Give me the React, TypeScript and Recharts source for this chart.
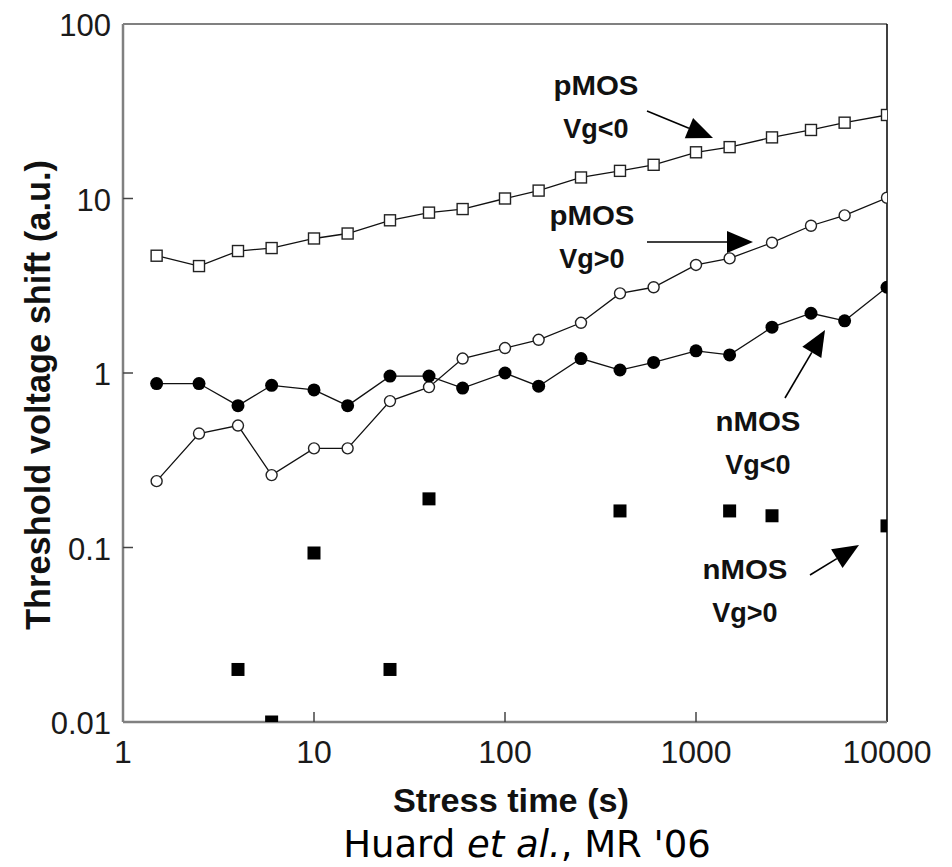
import {
  ScatterChart,
  Scatter,
  XAxis,
  YAxis,
  ReferenceLine,
} from 'recharts';

// stress time (s), shared by the three connected series
const stressTime = [1.5, 2.5, 4, 6, 10, 15, 25, 40, 60, 100, 150, 250, 400, 600, 1000, 1500, 2500, 4000, 6000, 10000];
const pmosVgNeg = [4.7, 4.1, 5.0, 5.2, 5.9, 6.3, 7.5, 8.3, 8.7, 10.0, 11.1, 13.2, 14.4, 15.6, 18.4, 19.7, 22.4, 24.7, 27.2, 30.1];
const pmosVgPos = [0.24, 0.45, 0.5, 0.26, 0.37, 0.37, 0.69, 0.83, 1.21, 1.39, 1.55, 1.94, 2.86, 3.1, 4.16, 4.54, 5.58, 6.98, 8.0, 10.1];
const nmosVgNeg = [0.87, 0.87, 0.65, 0.85, 0.8, 0.65, 0.96, 0.96, 0.82, 1.0, 0.84, 1.21, 1.04, 1.15, 1.34, 1.27, 1.83, 2.2, 1.99, 3.1];

// nMOS Vg>0 only has scattered points
const nmosPosTime = [4, 6, 10, 25, 40, 400, 1500, 2500, 10000];
const nmosVgPos = [0.02, 0.01, 0.093, 0.02, 0.19, 0.162, 0.162, 0.152, 0.133];

const xTicks = [1, 10, 100, 1000, 10000];
const yTicks = [0.01, 0.1, 1, 10, 100];

const FONT = '"Liberation Sans", Arial, sans-serif';

const toPoints = (xs: number[], ys: number[]) => xs.map((x, i) => ({ x, y: ys[i] }));

const OpenSquare = (p: any) => (
  <rect x={p.cx - 5.5} y={p.cy - 5.5} width={11} height={11} fill="#fff" stroke="#222" strokeWidth={1.4} />
);
const OpenCircle = (p: any) => (
  <circle cx={p.cx} cy={p.cy} r={5.5} fill="#fff" stroke="#222" strokeWidth={1.4} />
);
const FilledCircle = (p: any) => <circle cx={p.cx} cy={p.cy} r={6.5} fill="#000" />;
const FilledSquare = (p: any) => (
  <rect x={p.cx - 6.5} y={p.cy - 6.5} width={13} height={13} fill="#000" />
);

const YTick = (props: any) => {
  const { x, y, payload } = props;
  const v = payload.value;
  const inner = v !== 100 && v !== 0.01;
  return (
    <g>
      {inner && <line x1={x} x2={x + 10} y1={y} y2={y} stroke="#444" strokeWidth={1.5} />}
      <text x={x - 12} y={y + 12} textAnchor="end" fontSize={31} fontFamily={FONT} fill="#1a1a1a">
        {String(v)}
      </text>
    </g>
  );
};

const XTick = (props: any) => {
  const { x, y, payload } = props;
  const v = payload.value;
  const inner = v !== 1 && v !== 10000;
  return (
    <g>
      {inner && <line x1={x} x2={x} y1={y} y2={y - 10} stroke="#444" strokeWidth={1.5} />}
      <text x={x} y={y + 41} textAnchor="middle" fontSize={32} fontFamily={FONT} fill="#1a1a1a">
        {String(v)}
      </text>
    </g>
  );
};

function Arrow({ x1, y1, x2, y2, head = 26, width = 22 }: any) {
  const dx = x2 - x1;
  const dy = y2 - y1;
  const len = Math.sqrt(dx * dx + dy * dy);
  const ux = dx / len;
  const uy = dy / len;
  const bx = x2 - ux * head;
  const by = y2 - uy * head;
  const px = -uy * (width / 2);
  const py = ux * (width / 2);
  return (
    <g>
      <line x1={x1} y1={y1} x2={bx} y2={by} stroke="#000" strokeWidth={1.6} />
      <polygon points={`${x2},${y2} ${bx + px},${by + py} ${bx - px},${by - py}`} fill="#000" />
    </g>
  );
}

function Note({ x, y, top, bottom }: any) {
  return (
    <g fontFamily={FONT} fontWeight="bold" fontSize={27} fill="#111" textAnchor="middle">
      <text x={x} y={y} textLength={85} lengthAdjust="spacingAndGlyphs">{top}</text>
      <text x={x} y={y + 43}>{bottom}</text>
    </g>
  );
}

export default function App() {
  return (
    <div style={{ position: 'absolute', left: 0, top: 0, width: 952, height: 867, background: '#fff' }}>
      <ScatterChart
        width={952}
        height={867}
        margin={{ top: 24, right: 65, bottom: 0, left: 0 }}
      >
        <XAxis
          type="number"
          dataKey="x"
          scale="log"
          domain={[1, 10000]}
          ticks={xTicks}
          interval={0}
          allowDataOverflow
          height={145}
          tickSize={0}
          tickMargin={0}
          tickLine={false}
          tick={<XTick />}
          axisLine={{ stroke: '#808080', strokeWidth: 2.5 }}
        />
        <YAxis
          type="number"
          dataKey="y"
          scale="log"
          domain={[0.01, 100]}
          ticks={yTicks}
          interval={0}
          allowDataOverflow
          width={123}
          tickSize={0}
          tickMargin={0}
          tickLine={false}
          tick={<YTick />}
          axisLine={{ stroke: '#808080', strokeWidth: 2.5 }}
        />
        <ReferenceLine y={100} stroke="#808080" strokeWidth={2} />
        <ReferenceLine x={10000} stroke="#000" strokeWidth={1.5} />
        <Scatter
          data={toPoints(stressTime, pmosVgNeg)}
          line={{ stroke: '#111', strokeWidth: 1.3 }}
          lineType="joint"
          shape={<OpenSquare />}
          isAnimationActive={false}
        />
        <Scatter
          data={toPoints(stressTime, pmosVgPos)}
          line={{ stroke: '#111', strokeWidth: 1.3 }}
          lineType="joint"
          shape={<OpenCircle />}
          isAnimationActive={false}
        />
        <Scatter
          data={toPoints(stressTime, nmosVgNeg)}
          line={{ stroke: '#111', strokeWidth: 1.3 }}
          lineType="joint"
          shape={<FilledCircle />}
          isAnimationActive={false}
        />
        <Scatter
          data={toPoints(nmosPosTime, nmosVgPos)}
          shape={<FilledSquare />}
          isAnimationActive={false}
        />
      </ScatterChart>

      <svg
        width={952}
        height={867}
        style={{ position: 'absolute', left: 0, top: 0, pointerEvents: 'none' }}
      >
        <Note x={596} y={95} top="pMOS" bottom="Vg<0" />
        <Arrow x1={647} y1={111} x2={713} y2={138} />
        <Note x={592} y={225} top="pMOS" bottom="Vg>0" />
        <Arrow x1={647} y1={242} x2={753} y2={242} />
        <Note x={758} y={431} top="nMOS" bottom="Vg<0" />
        <Arrow x1={785} y1={398} x2={825} y2={330} />
        <Note x={745} y={579} top="nMOS" bottom="Vg>0" />
        <Arrow x1={810} y1={575} x2={859} y2={545} />

        <text
          x={511}
          y={812}
          textAnchor="middle"
          fontFamily={FONT}
          fontWeight="bold"
          fontSize={33}
          fill="#111"
          textLength={236}
          lengthAdjust="spacingAndGlyphs"
        >
          Stress time (s)
        </text>
        <text
          x={50}
          y={395}
          transform="rotate(-90, 50, 395)"
          textAnchor="middle"
          fontFamily={FONT}
          fontWeight="bold"
          fontSize={35}
          fill="#111"
          textLength={470}
          lengthAdjust="spacingAndGlyphs"
        >
          Threshold voltage shift (a.u.)
        </text>
        <text x={527} y={857} textAnchor="middle" fontFamily='"DejaVu Sans", sans-serif' fontSize={37} fill="#000">
          Huard <tspan fontStyle="italic">et al.</tspan>, MR '06
        </text>
      </svg>
    </div>
  );
}
